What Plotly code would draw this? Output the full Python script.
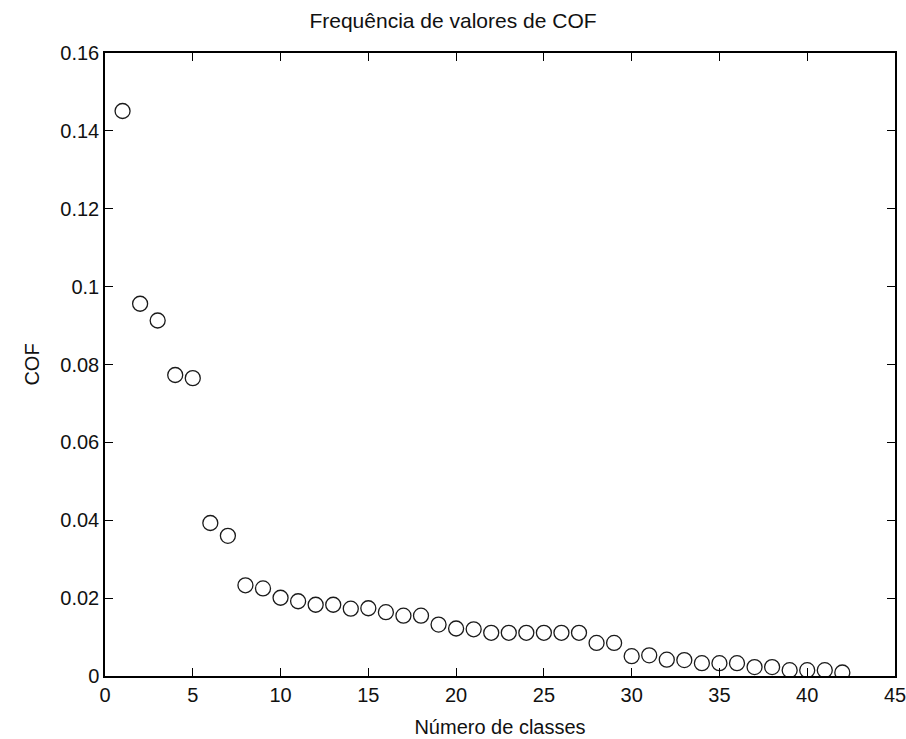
import plotly.graph_objects as go

classes = list(range(1, 43))
cof = [0.1451, 0.0956, 0.0913, 0.0773, 0.0765, 0.0393, 0.0360, 0.0233, 0.0225, 0.0201,
       0.0192, 0.0183, 0.0183, 0.0173, 0.0174, 0.0164, 0.0155, 0.0155, 0.0132, 0.0122,
       0.0120, 0.0111, 0.0111, 0.0111, 0.0111, 0.0111, 0.0111, 0.0085, 0.0085, 0.0051,
       0.0053, 0.0042, 0.0041, 0.0033, 0.0033, 0.0033, 0.0023, 0.0023, 0.0015, 0.0015,
       0.0015, 0.0009]
x_ticks = [0, 5, 10, 15, 20, 25, 30, 35, 40, 45]
y_ticks = [0, 0.02, 0.04, 0.06, 0.08, 0.1, 0.12, 0.14, 0.16]
y_labels = ["0", "0.02", "0.04", "0.06", "0.08", "0.1", "0.12", "0.14", "0.16"]

font = "Liberation Sans, Arial, sans-serif"

fig = go.Figure(go.Scatter(
    x=classes, y=cof, mode="markers",
    marker=dict(symbol="circle-open", size=15, color="#1a1a1a", line=dict(width=1.3)),
))

axis_common = dict(
    showgrid=False, zeroline=False, showline=True, linecolor="black", linewidth=1.5,
    mirror="ticks", ticks="inside", ticklen=8, tickcolor="black", tickwidth=1.2,
    tickfont=dict(family=font, size=20, color="#111"), automargin=False,
    ticklabeloverflow="allow",
)

fig.update_layout(
    width=906, height=739,
    margin=dict(l=105, r=11, t=53, b=63),
    paper_bgcolor="white", plot_bgcolor="white",
    showlegend=False,
    title=dict(text="Frequência de valores de COF", x=0.5, xanchor="center",
               y=1 - 21 / 739, yanchor="middle",
               font=dict(family=font, size=21, color="#111")),
    xaxis=dict(range=[0, 45], tickvals=x_ticks, ticktext=[str(t) for t in x_ticks],
               title=dict(text="Número de classes",
                          font=dict(family=font, size=20, color="#111")),
               **axis_common),
    yaxis=dict(range=[0, 0.16], tickvals=y_ticks, ticktext=y_labels,
               title=dict(text="COF",
                          font=dict(family=font, size=20, color="#111")),
               **axis_common),
)

fig.write_html("out.html")
